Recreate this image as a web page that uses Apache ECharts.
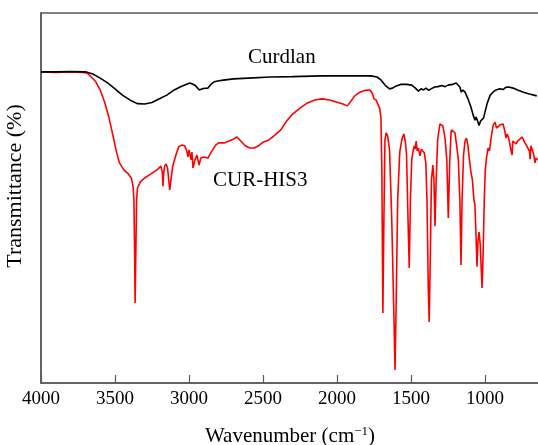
<!DOCTYPE html>
<html>
<head>
<meta charset="utf-8">
<script src="https://cdn.jsdelivr.net/npm/echarts@6/dist/echarts.min.js"></script>
<style>
  html, body { margin: 0; padding: 0; background: #fff; }
  #chart { width: 538px; height: 445px; }
</style>
</head>
<body>
<div id="chart"></div>
<script>
// wavenumber (cm-1) and relative transmittance
const curdlanWn = [4000, 3900, 3800, 3700, 3650, 3600, 3550, 3500, 3450, 3400, 3350, 3300, 3250, 3200, 3150, 3100, 3060, 3020, 2993, 2960, 2930, 2905, 2872, 2850, 2830, 2780, 2700, 2600, 2450, 2300, 2100, 1900, 1770, 1730, 1703, 1670, 1645, 1625, 1600, 1570, 1530, 1495, 1470, 1450, 1432, 1415, 1398, 1380, 1365, 1340, 1318, 1290, 1270, 1250, 1220, 1195, 1182, 1170, 1160, 1150, 1135, 1115, 1095, 1080, 1068, 1060, 1050, 1040, 1030, 1020, 1010, 1000, 985, 965, 946, 925, 900, 878, 860, 840, 810, 780, 740, 700, 650];
const curdlanT = [84.1, 84.1, 84.2, 84.1, 83.5, 82.4, 81.1, 79.5, 77.8, 76.5, 75.5, 75.4, 75.8, 76.8, 77.8, 79.2, 80.0, 80.7, 81.1, 80.5, 79.2, 79.6, 79.7, 80.8, 81.4, 81.8, 82.2, 82.4, 82.7, 82.8, 83.0, 83.0, 83.0, 82.7, 81.9, 80.3, 79.5, 79.7, 80.3, 80.7, 80.7, 80.5, 79.7, 78.9, 79.5, 79.2, 79.7, 79.1, 79.5, 80.0, 80.1, 80.4, 80.1, 80.5, 80.7, 81.1, 81.2, 80.0, 78.6, 79.2, 78.6, 76.8, 74.6, 72.4, 71.0, 71.9, 70.8, 69.6, 70.8, 70.3, 71.6, 73.2, 75.6, 77.8, 78.6, 79.2, 79.5, 79.3, 79.9, 80.0, 79.7, 79.2, 78.6, 78.1, 77.6];

const hisWn = [4000, 3900, 3800, 3720, 3690, 3660, 3630, 3600, 3570, 3540, 3510, 3490, 3470, 3440, 3410, 3390, 3378, 3372, 3367, 3364, 3360, 3354, 3348, 3330, 3300, 3270, 3240, 3210, 3190, 3180, 3176, 3172, 3165, 3155, 3145, 3137, 3130, 3122, 3110, 3090, 3070, 3050, 3030, 3015, 3007, 3000, 2993, 2986, 2980, 2973, 2960, 2946, 2932, 2920, 2900, 2872, 2850, 2820, 2800, 2760, 2730, 2700, 2676, 2650, 2620, 2590, 2560, 2530, 2500, 2460, 2420, 2380, 2340, 2300, 2250, 2200, 2150, 2100, 2050, 2000, 1960, 1930, 1905, 1880, 1845, 1810, 1777, 1760, 1750, 1736, 1725, 1712, 1703, 1697, 1690, 1684, 1676, 1668, 1658, 1645, 1630, 1615, 1608, 1600, 1590, 1576, 1560, 1548, 1538, 1530, 1520, 1512, 1504, 1495, 1486, 1478, 1472, 1465, 1458, 1450, 1440, 1430, 1420, 1410, 1400, 1392, 1383, 1377, 1370, 1362, 1352, 1345, 1338, 1330, 1320, 1305, 1295, 1285, 1270, 1258, 1248, 1238, 1228, 1215, 1203, 1192, 1180, 1170, 1162, 1155, 1145, 1135, 1125, 1115, 1105, 1095, 1085, 1075, 1068, 1062, 1054, 1047, 1040, 1032, 1025, 1020, 1012, 1005, 998, 990, 980, 970, 960, 945, 932, 922, 912, 900, 888, 878, 868, 858, 850, 840, 830, 822, 817, 812, 800, 790, 780, 765, 750, 740, 730, 718, 708, 700, 695, 690, 680, 670, 662, 655, 645];
const hisT = [84.1, 83.9, 84.1, 83.9, 83.8, 82.7, 81.4, 79.2, 75.9, 71.6, 66.2, 62.4, 59.5, 57.6, 56.5, 55.4, 53.2, 49.5, 33.2, 21.6, 33.2, 49.5, 52.7, 54.3, 55.4, 56.2, 57.0, 57.8, 58.6, 57.0, 53.2, 56.2, 58.6, 59.2, 58.1, 54.9, 52.2, 54.9, 58.6, 61.4, 63.8, 64.3, 64.1, 62.7, 61.1, 63.0, 63.5, 60.3, 62.4, 58.1, 60.3, 61.6, 58.9, 60.8, 61.1, 60.8, 62.4, 64.3, 64.9, 64.9, 65.4, 65.9, 66.5, 65.4, 64.1, 63.5, 63.5, 64.1, 65.1, 65.7, 67.0, 68.4, 70.8, 72.7, 74.3, 75.7, 76.5, 76.8, 76.5, 75.9, 75.4, 74.9, 76.2, 77.6, 78.6, 79.1, 79.2, 78.1, 76.8, 76.5, 76.2, 74.3, 71.6, 57.6, 18.9, 41.4, 65.7, 67.6, 66.8, 63.0, 44.1, 17.0, 3.5, 22.4, 49.5, 62.4, 66.2, 67.3, 65.1, 61.6, 44.1, 31.1, 49.5, 60.3, 62.7, 64.1, 63.2, 65.4, 62.7, 63.5, 61.4, 63.2, 63.5, 62.2, 59.5, 49.5, 25.1, 16.5, 33.2, 54.9, 58.9, 54.9, 42.4, 54.9, 65.7, 70.0, 70.3, 69.5, 66.2, 60.3, 44.6, 60.3, 68.4, 68.9, 67.6, 64.3, 60.3, 49.5, 31.9, 49.5, 61.6, 65.4, 66.2, 64.1, 60.3, 57.0, 54.9, 49.5, 48.1, 41.4, 31.4, 38.6, 40.8, 37.3, 30.5, 25.7, 35.9, 49.5, 57.6, 60.8, 63.5, 62.7, 65.9, 69.7, 70.5, 68.9, 69.2, 69.7, 70.0, 70.0, 68.4, 66.2, 67.3, 66.2, 65.9, 62.4, 61.6, 65.4, 65.9, 64.6, 65.4, 65.9, 66.5, 66.2, 64.9, 64.1, 64.6, 62.7, 60.5, 64.1, 64.1, 61.6, 59.5, 60.8, 60.3];

const xTicks = [4000, 3500, 3000, 2500, 2000, 1500, 1000];

const serif = '"Liberation Serif", "DejaVu Serif", serif';
const axisGray = '#5a5a5a';

const chart = echarts.init(document.getElementById('chart'));
chart.setOption({
  backgroundColor: '#fff',
  animation: false,
  grid: {
    left: 41,
    top: 13,
    width: 518,
    height: 370,
    outerBoundsMode: 'none',
    containLabel: false,
    show: true,
    borderColor: axisGray,
    borderWidth: 1.5
  },
  xAxis: {
    type: 'value',
    inverse: true,
    min: 500,
    max: 4000,
    interval: 500,
    splitLine: { show: false },
    axisLine: { lineStyle: { color: axisGray, width: 1.5 } },
    axisTick: { inside: true, length: 8, lineStyle: { color: axisGray, width: 1.2 } },
    axisLabel: {
      color: '#000',
      fontFamily: serif,
      fontSize: 19,
      margin: 7,
      formatter: v => (xTicks.indexOf(v) >= 0 ? String(v) : '')
    },
    name: '{a|Wavenumber (cm}{s|−1}{a|)}',
    nameLocation: 'middle',
    nameGap: 42,
    nameTextStyle: {
      padding: [0, 20, 0, 0],
      rich: {
        a: { fontFamily: serif, fontSize: 21, color: '#000' },
        s: { fontFamily: serif, fontSize: 13, color: '#000', verticalAlign: 'top', padding: [0, 0, 9, 0] }
      }
    }
  },
  yAxis: {
    type: 'value',
    min: 0,
    max: 100,
    splitLine: { show: false },
    axisTick: { show: false },
    axisLabel: { show: false },
    axisLine: { show: true, lineStyle: { color: axisGray, width: 1.5 } },
    name: 'Transmittance (%)',
    nameLocation: 'middle',
    nameGap: 15,
    nameTextStyle: { fontFamily: serif, fontSize: 22, color: '#000', padding: [0, 0, 0, 24] }
  },
  series: [
    {
      name: 'Curdlan',
      type: 'line',
      data: curdlanWn.map((w, i) => [w, curdlanT[i]]),
      showSymbol: false,
      lineStyle: { color: '#000', width: 1.6 },
      z: 3
    },
    {
      name: 'CUR-HIS3',
      type: 'line',
      data: hisWn.map((w, i) => [w, hisT[i]]),
      showSymbol: false,
      lineStyle: { color: '#ff0000', width: 1.6 },
      z: 2
    }
  ],
  graphic: [
    { type: 'text', left: 248, top: 47, style: { text: 'Curdlan', font: '21px ' + serif, fill: '#000' } },
    { type: 'text', left: 213, top: 170, style: { text: 'CUR-HIS3', font: '21px ' + serif, fill: '#000' } }
  ]
});
</script>
</body>
</html>
